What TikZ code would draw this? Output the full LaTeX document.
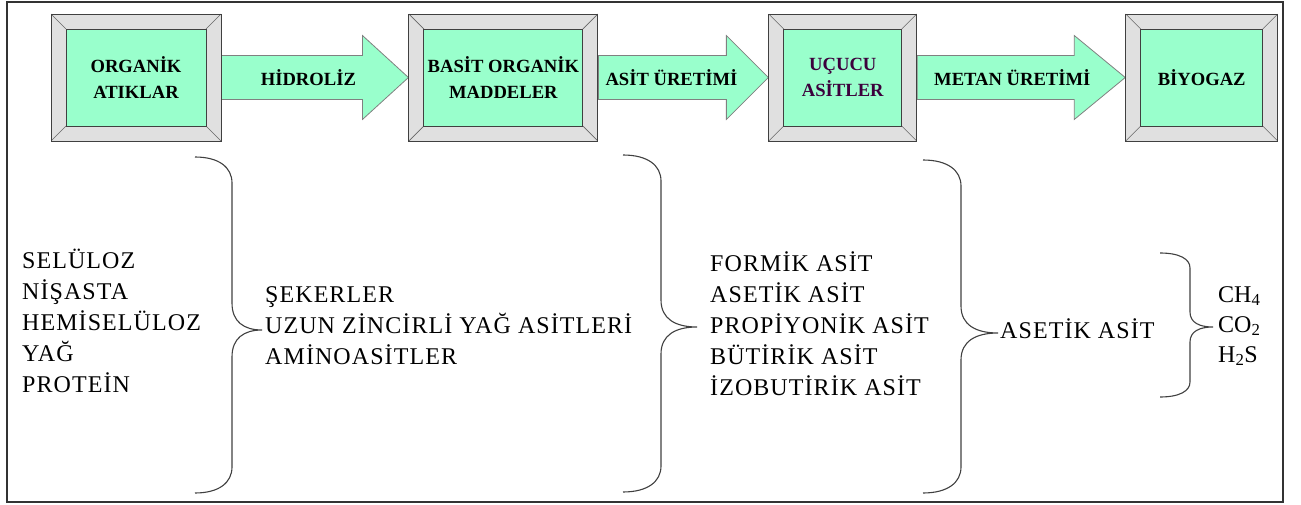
\documentclass[tikz,border=0pt]{standalone}
\usepackage{fontspec}
\setmainfont{Liberation Serif}
\newfontfamily\listfont[LetterSpace=4.5]{Liberation Serif}
\usepackage{xcolor}
\usepackage{tikz}
\usetikzlibrary{arrows.meta, positioning, calc, backgrounds}

\definecolor{mint}{RGB}{153,255,204}
\definecolor{bevelgray}{RGB}{224,224,224}
\definecolor{darkplum}{RGB}{60,0,60}

\begin{document}
\begin{tikzpicture}[
        x=1pt, y=-1pt,
        framebox/.style={draw=black!75, fill=bevelgray, line width=0.9pt, inner sep=0pt,
            minimum height=127pt, align=center,
            font=\bfseries\fontsize{18.6}{26}\selectfont,
            path picture={
                \path (path picture bounding box.south west) coordinate (pp-sw)
                      (path picture bounding box.north east) coordinate (pp-ne)
                      (path picture bounding box.south east) coordinate (pp-se)
                      (path picture bounding box.north west) coordinate (pp-nw);
                \draw[black!60, line width=0.6pt] (pp-sw) -- ++(15pt,15pt) (pp-nw) -- ++(15pt,-15pt)
                      (pp-ne) -- ++(-15pt,-15pt) (pp-se) -- ++(-15pt,15pt);
                \draw[black!75, fill=mint, line width=0.9pt]
                      ([shift={(15pt,15pt)}]pp-sw) rectangle ([shift={(-15pt,-15pt)}]pp-ne);
            }},
        flowarrow/.style={fill=mint, draw=black!50, line width=0.8pt},
        flowlabel/.style={font=\bfseries\fontsize{18.6}{22}\selectfont, inner sep=0pt},
        listtext/.style={font=\listfont\fontsize{24}{31}\selectfont, align=left, anchor=west, inner sep=0pt},
        brace/.style={draw=black!75, line width=1.1pt}
    ]
        \useasboundingbox (0,0) rectangle (1301,505);
        \draw[line width=1.2pt, black!80] (7,2) rectangle (1283,502);

        % Stages
        \node[framebox, minimum width=170pt] (org) at (136,77.5) {ORGANİK\\ATIKLAR};
        \node[framebox, minimum width=189pt, right=187pt of org] (basit) {BASİT ORGANİK\\MADDELER};
        \node[framebox, minimum width=148pt, right=170pt of basit, text=darkplum] (ucucu) {UÇUCU\\ASİTLER};
        \node[framebox, minimum width=152pt, right=208pt of ucucu] (biyogaz) {BİYOGAZ};

        % Arrows
        \begin{scope}[on background layer]
            \foreach \a/\b/\h in {org/basit/46, basit/ucucu/42, ucucu/biyogaz/51}
                \draw[flowarrow] ($(\a.east)+(0,-22)$) -- ($(\b.west)+(-\h,-22)$) -- ($(\b.west)+(-\h,-42)$)
                    -- (\b.west) -- ($(\b.west)+(-\h,42)$) -- ($(\b.west)+(-\h,22)$) -- ($(\a.east)+(0,22)$) -- cycle;
        \end{scope}
        \node[flowlabel] (hidroliz) at ($(org.east)!0.465!(basit.west)$) {HİDROLİZ};
        \node[flowlabel] (asituretimi) at ($(basit.east)!0.43!(ucucu.west)$) {ASİT ÜRETİMİ};
        \node[flowlabel] (metanuretimi) at ($(ucucu.east)!0.457!(biyogaz.west)$) {METAN ÜRETİMİ};

        % Lists
        \node[listtext] (polimer) at (22,321) {SELÜLOZ\\NİŞASTA\\HEMİSELÜLOZ\\YAĞ\\PROTEİN};
        \node[listtext] (monomer) at (265,326) {ŞEKERLER\\UZUN ZİNCİRLİ YAĞ ASİTLERİ\\AMİNOASİTLER};
        \node[listtext] (uca) at (710,324) {FORMİK ASİT\\ASETİK ASİT\\PROPİYONİK ASİT\\BÜTİRİK ASİT\\İZOBUTİRİK ASİT};
        \node[listtext] (asetik) at (1000,329) {ASETİK ASİT};
        \node[listtext, font=\fontsize{24}{30}\selectfont] (gaz) at (1218,326) {CH\textsubscript{4}\\CO\textsubscript{2}\\H\textsubscript{2}S};

        % Braces
        \foreach \xa/\xv/\xt/\ya/\ym/\yb/\e/\t in {195/232/262/157/330/493/26/27,
                623/661/697/155/327/492/26/27, 923/961/998/160/333/493/26/27,
                1160/1190/1213/253/327/397/15/15}
            \draw[brace] (\xa,\ya) .. controls ({\xa+0.65*(\xv-\xa)},\ya) and (\xv,{\ya+0.4*\e}) .. (\xv,{\ya+\e})
                -- (\xv,{\ym-\t}) .. controls (\xv,{\ym-0.3*\t}) and ({\xv+0.4*(\xt-\xv)},\ym) .. (\xt,\ym)
                .. controls ({\xv+0.4*(\xt-\xv)},\ym) and (\xv,{\ym+0.3*\t}) .. (\xv,{\ym+\t})
                -- (\xv,{\yb-\e}) .. controls (\xv,{\yb-0.4*\e}) and ({\xa+0.65*(\xv-\xa)},\yb) .. (\xa,\yb);

    \end{tikzpicture}
\end{document}
